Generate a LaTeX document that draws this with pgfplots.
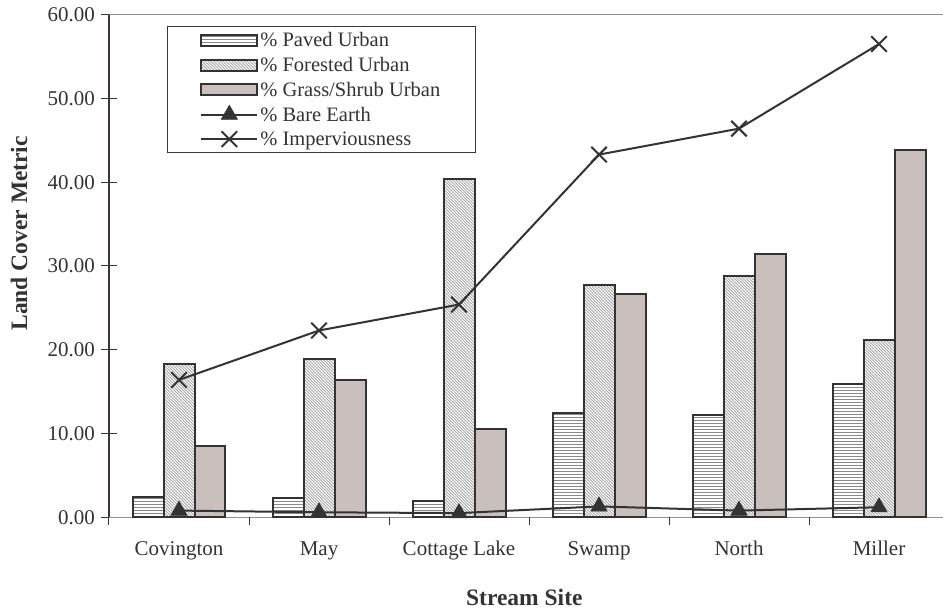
\documentclass[border=0pt]{standalone}
\usepackage{pgfplots}
\pgfplotsset{compat=1.18}
\usetikzlibrary{patterns}
\usepackage{fontspec}
\setmainfont{Liberation Serif}
\definecolor{dark}{HTML}{333333}
\definecolor{axbrown}{HTML}{9C8C8A}
\definecolor{axdark}{HTML}{3F3535}
\definecolor{grass}{HTML}{C9BFBC}
\definecolor{hatch}{HTML}{5A5A5A}
\definecolor{hatchlight}{HTML}{8A8A8A}
\pgfplotsset{
  barleg/.style={legend image code/.code={\draw[##1] (0pt,-5.5pt) rectangle (56pt,5.5pt);}},
  lineleg/.style={legend image code/.code={\draw[mark repeat=2,mark phase=2,##1] plot coordinates {(0pt,0pt) (28pt,0pt) (56pt,0pt)};}},
}
\begin{document}
\begin{tikzpicture}
\begin{axis}[
  width=834pt, height=502.6pt, scale only axis,
  xmin=-0.5, xmax=5.457, ymin=0, ymax=60,
  clip=false,
  axis lines*=left,
  x axis line style={color=axbrown, line width=1.4pt},
  y axis line style={color=axdark, line width=1.4pt},
  ytick={0,10,...,60},
  tick align=center, major tick length=15pt,
  ytick style={color=axdark, line width=1pt},
  xtick={0,...,5},
  xticklabels={Covington,May,Cottage Lake,Swamp,North,Miller},
  xtick style={draw=none},
  y tick label style={/pgf/number format/fixed, /pgf/number format/fixed zerofill, /pgf/number format/precision=2, anchor=east, xshift=-3pt},
  x tick label style={anchor=base, yshift=-31pt},
  /pgf/number format/assume math mode=true,
  tick label style={font=\fontsize{21}{25}\selectfont, text=dark},
  label style={font=\fontsize{23.5}{28}\selectfont\bfseries, text=dark},
  xlabel={Stream Site},
  xlabel style={at={(axis description cs:0.498,-0.175)}, anchor=base},
  ylabel={Land Cover Metric},
  ylabel style={at={(axis description cs:-0.0983,0.565)}, anchor=base, rotate=0},
  legend style={at={(0.0695,0.977)}, anchor=north west, draw=axdark, line width=0.8pt, fill=white,
    inner xsep=33pt, inner ysep=4pt, row sep=5pt, font=\fontsize{20.5}{24}\selectfont, text=dark},
  legend cell align=left,
]
\addplot[ybar, bar width=0.2214, bar shift=-0.2214, draw=dark, line width=2pt, fill=white,
  postaction={pattern=horizontal lines, pattern color=hatchlight}, barleg]
  coordinates {(0,2.4) (1,2.3) (2,1.9) (3,12.5) (4,12.2) (5,15.9)};
\addplot[ybar, bar width=0.2214, bar shift=0, draw=dark, line width=2pt, fill=white,
  postaction={pattern=north west lines, pattern color=hatch}, barleg]
  coordinates {(0,18.3) (1,18.85) (2,40.4) (3,27.7) (4,28.85) (5,21.2)};
\addplot[ybar, bar width=0.2214, bar shift=0.2214, draw=dark, line width=2pt, fill=grass, barleg]
  coordinates {(0,8.5) (1,16.45) (2,10.6) (3,26.7) (4,31.45) (5,43.8)};
\addplot[color=dark, line width=2pt, mark=triangle*, mark size=9.5pt,
  mark options={solid, fill=dark, line width=0.5pt}, lineleg]
  coordinates {(0,0.8) (1,0.6) (2,0.5) (3,1.3) (4,0.8) (5,1.2)};
\addplot[color=dark, line width=2pt, mark=x, mark size=11pt,
  mark options={solid, line width=2pt}, lineleg]
  coordinates {(0,16.4) (1,22.3) (2,25.4) (3,43.3) (4,46.4) (5,56.5)};
\legend{\% Paved Urban, \% Forested Urban, \% Grass/Shrub Urban, \% Bare Earth, \% Imperviousness}
\draw[axbrown, line width=1.4pt] (rel axis cs:0,1) -- (rel axis cs:1,1);
\pgfplotsinvokeforeach{-0.5,0.5,1.5,2.5,3.5,4.5}{\draw[axdark, line width=1pt] (axis cs:#1,0) -- ++(0pt,-8pt);}
\end{axis}
\pgfresetboundingbox
\path[use as bounding box] ([shift={(-109pt,-95pt)}]current axis.south west) rectangle ([shift={(0pt,14.7pt)}]current axis.north east);
\end{tikzpicture}
\end{document}
